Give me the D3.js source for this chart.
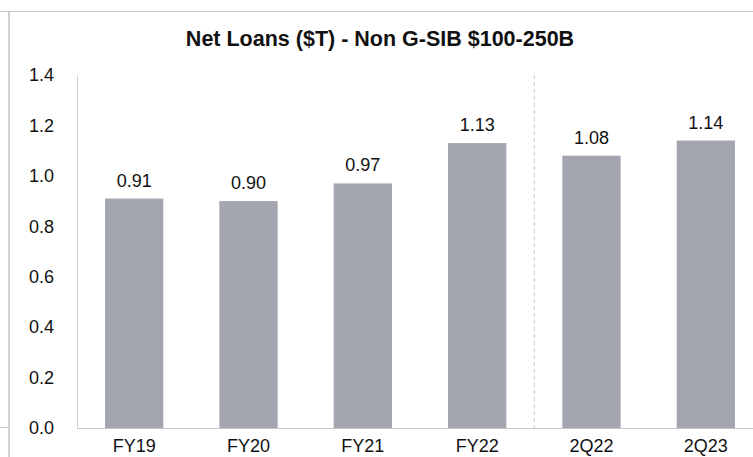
<!DOCTYPE html>
<html><head><meta charset="utf-8">
<script src="https://cdn.jsdelivr.net/npm/d3@7/dist/d3.min.js"></script>
<style>body{margin:0;background:#fff}svg{display:block}text{font-family:"Liberation Sans",Arial,sans-serif}</style>
</head><body><svg id="c" width="753" height="457"></svg>
<script>
const categories = ["FY19","FY20","FY21","FY22","2Q22","2Q23"];
const values = [0.91,0.90,0.97,1.13,1.08,1.14];
const labels = ["0.91","0.90","0.97","1.13","1.08","1.14"];
const yTicks = [0,0.2,0.4,0.6,0.8,1.0,1.2,1.4];
const title = "Net Loans ($T) - Non G-SIB $100-250B";

const svg = d3.select("#c");
const x = d3.scaleBand().domain(categories).range([77,763]).paddingInner(0.49).paddingOuter(0.245);
const y = d3.scaleLinear().domain([0,1.4]).range([428,75]);

// frame lines
svg.append("line").attr("x1",0).attr("x2",753).attr("y1",11.5).attr("y2",11.5).attr("stroke","#c8c8c8");
svg.append("line").attr("x1",9).attr("x2",9).attr("y1",11).attr("y2",457).attr("stroke","#cfcfcf").attr("stroke-width",2);
svg.append("line").attr("x1",0).attr("x2",8).attr("y1",427.5).attr("y2",427.5).attr("stroke","#c8c8c8");

// bars
svg.selectAll("rect.bar").data(categories).enter().append("rect")
  .attr("x",d=>x(d)).attr("width",x.bandwidth())
  .attr("y",(d,i)=>y(values[i])).attr("height",(d,i)=>y(0)-y(values[i]))
  .attr("fill","#a3a5b0");

// axes
const yAxis = d3.axisLeft(y).tickValues(yTicks).tickFormat(d3.format(".1f")).tickSize(0).tickPadding(23);
const gy = svg.append("g").attr("transform","translate(77,0)").call(yAxis);
gy.select(".domain").attr("stroke","#d0d0d0");
gy.selectAll("text").attr("font-size",18).attr("fill","#111").attr("font-family","Liberation Sans, Arial, sans-serif");

const xAxis = d3.axisBottom(x).tickSize(0).tickPadding(11);
const gx = svg.append("g").attr("transform","translate(0,428)").call(xAxis);
gx.select(".domain").attr("stroke","#c8c8c8");
gx.selectAll("text").attr("font-size",18).attr("fill","#111").attr("font-family","Liberation Sans, Arial, sans-serif");

// dashed separator
const sepX = (x("FY22")+x.bandwidth() + x("2Q22"))/2;
svg.append("line").attr("x1",sepX).attr("x2",sepX).attr("y1",y(1.4)).attr("y2",y(0))
  .attr("stroke","#c8c8c8").attr("stroke-dasharray","4,3");

// value labels
svg.selectAll("text.val").data(categories).enter().append("text")
  .attr("x",d=>x(d)+x.bandwidth()/2).attr("y",(d,i)=>y(values[i])-12)
  .attr("text-anchor","middle").attr("font-size",18).attr("fill","#111").text((d,i)=>labels[i]);

svg.append("text").attr("x",380).attr("y",46).attr("text-anchor","middle")
  .attr("font-size",21.5).attr("font-weight","bold").attr("fill","#111").text(title);
</script></body></html>
